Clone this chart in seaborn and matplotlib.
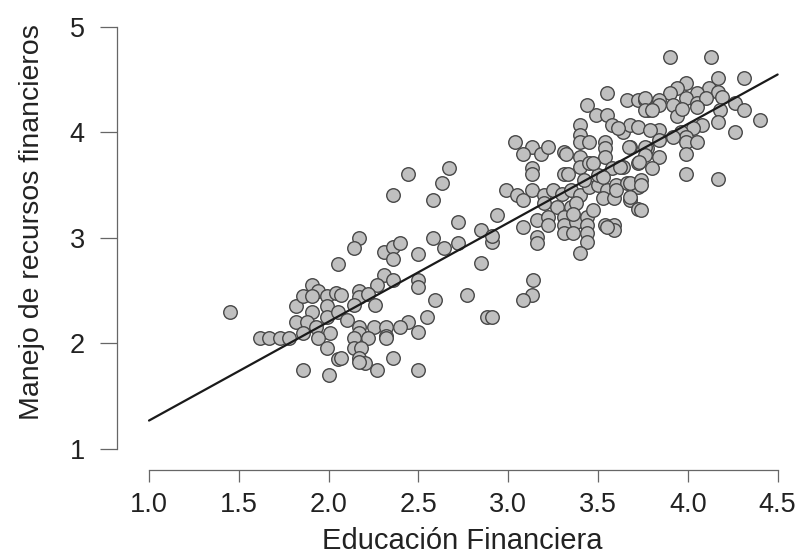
import numpy as np
import pandas as pd
import seaborn as sns
import matplotlib.pyplot as plt

# puntos (Educacion Financiera, Manejo de recursos financieros)
edu_bajo = [1.45, 1.62, 1.67, 1.73, 1.78, 1.86, 2.00, 1.91, 1.94, 1.82, 1.86, 1.91, 1.99, 2.04,
            1.91, 1.99, 1.82, 1.88, 1.99, 1.86, 1.93, 2.01, 1.94, 1.99, 2.05, 2.05,
            2.17, 2.14, 2.31, 2.36, 2.40, 2.36, 2.50, 2.58, 2.64, 2.72,
            2.31, 2.36, 2.50, 2.50, 2.27, 2.17, 2.17, 2.22, 2.07,
            2.26, 2.14, 2.59, 2.77, 2.88, 2.55, 2.44, 2.50, 2.40,
            2.17, 2.25, 2.32, 2.17, 2.32, 2.14, 2.22, 2.32, 2.14, 2.18,
            2.07, 2.17, 2.20, 2.36, 2.27, 2.50, 2.17,
            2.44, 2.67, 2.63, 2.36, 2.58, 2.72, 2.85, 2.85, 2.91, 2.05, 2.10]
man_bajo = [2.30, 2.05, 2.05, 2.05, 2.05, 1.75, 1.70, 2.55, 2.50, 2.35, 2.45, 2.45, 2.45, 2.48,
            2.30, 2.35, 2.20, 2.20, 2.25, 2.10, 2.15, 2.10, 2.05, 1.95, 1.85, 2.75,
            3.00, 2.90, 2.87, 2.91, 2.95, 2.80, 2.85, 3.00, 2.90, 2.95,
            2.65, 2.60, 2.60, 2.53, 2.55, 2.50, 2.44, 2.47, 2.46,
            2.36, 2.36, 2.41, 2.46, 2.25, 2.25, 2.20, 2.11, 2.15,
            2.15, 2.15, 2.15, 2.10, 2.07, 2.05, 2.05, 2.05, 1.95, 1.95,
            1.86, 1.86, 1.81, 1.86, 1.75, 1.75, 1.82,
            3.61, 3.66, 3.52, 3.41, 3.36, 3.15, 3.07, 2.76, 2.25, 2.30, 2.22]

edu_medio = [2.94, 2.91, 2.91, 2.99, 3.05, 3.08, 3.13, 3.20, 3.25, 3.30, 3.35, 3.40, 3.45, 3.50,
             3.55, 3.60, 3.66, 3.72, 3.53, 3.59, 3.68, 3.72, 3.27, 3.35, 3.20,
             3.08, 3.16, 3.22, 3.22, 3.31, 3.31, 3.38, 3.44, 3.44, 3.44, 3.54, 3.59, 3.59,
             3.31, 3.36, 3.16, 3.16, 3.44, 3.40, 3.14, 3.13, 3.08,
             3.04, 3.13, 3.08, 3.18, 3.22, 3.31, 3.40, 3.40, 3.40, 3.45, 3.54, 3.54, 3.54,
             3.49, 3.55, 3.58, 3.64, 3.68, 3.40, 3.40, 3.45, 3.13, 3.13, 3.31, 3.42, 3.50,
             3.58, 3.64, 3.68, 3.72, 3.44, 3.55, 3.66, 3.72, 3.76, 3.78, 3.61, 3.72, 3.67,
             3.77, 3.32, 3.47, 3.62, 3.33, 3.53, 3.68, 3.60, 3.68, 3.38, 3.47, 3.36, 3.55]
man_medio = [3.22, 2.96, 3.02, 3.45, 3.41, 3.36, 3.45, 3.41, 3.45, 3.42, 3.45, 3.41, 3.48, 3.50,
             3.45, 3.50, 3.52, 3.48, 3.38, 3.38, 3.36, 3.27, 3.29, 3.29, 3.33,
             3.10, 3.17, 3.20, 3.12, 3.20, 3.12, 3.15, 3.20, 3.12, 3.05, 3.12, 3.12, 3.07,
             3.05, 3.05, 3.01, 2.95, 2.96, 2.86, 2.60, 2.46, 2.41,
             3.91, 3.86, 3.80, 3.80, 3.86, 3.81, 4.07, 3.98, 3.91, 3.91, 3.91, 3.85, 3.77,
             4.17, 4.17, 4.07, 4.00, 4.07, 3.77, 3.67, 3.71, 3.66, 3.61, 3.61, 3.55, 3.60,
             3.66, 3.67, 3.86, 3.71, 4.26, 4.37, 4.31, 4.31, 4.31, 4.21, 4.04, 4.05, 3.86,
             3.85, 3.80, 3.71, 3.67, 3.61, 3.58, 3.52, 3.45, 3.39, 3.33, 3.26, 3.23, 3.10]

edu_alto = [3.90, 4.13, 4.17, 4.31, 3.99, 3.94, 4.12, 4.17, 3.90, 4.05, 3.76, 3.84, 3.99, 4.05,
            4.10, 4.19, 3.84, 3.92, 4.05, 3.76, 3.80, 4.26, 4.31, 4.18, 4.40, 3.94, 3.97,
            4.17, 4.08, 4.03, 3.84, 3.79, 4.26, 3.96, 3.99, 3.92, 3.84, 3.99, 4.05, 3.76,
            3.99, 3.84, 3.76, 3.73, 3.80, 3.99, 4.17, 3.74, 3.74, 3.74]
man_alto = [4.72, 4.72, 4.52, 4.52, 4.47, 4.42, 4.42, 4.38, 4.37, 4.37, 4.33, 4.31, 4.33, 4.28,
            4.33, 4.34, 4.26, 4.26, 4.24, 4.21, 4.21, 4.28, 4.21, 4.21, 4.12, 4.16, 4.22,
            4.10, 4.07, 4.04, 4.02, 4.02, 4.00, 4.00, 3.96, 3.96, 3.93, 3.91, 3.91, 3.86,
            3.80, 3.77, 3.79, 3.72, 3.66, 3.61, 3.56, 3.55, 3.50, 3.26]

df = pd.DataFrame({
    'educacion': edu_bajo + edu_medio + edu_alto,
    'manejo': man_bajo + man_medio + man_alto,
})

sns.set_style('ticks')
plt.rcParams['font.family'] = ['Liberation Sans', 'DejaVu Sans']

fig = plt.figure(figsize=(8.02, 5.59), dpi=100)
ax = fig.add_axes([0.1455, 0.1592, 0.851, 0.8113])

sns.scatterplot(data=df, x='educacion', y='manejo', ax=ax, s=95,
                color='#c0c0c0', edgecolor='#474747', linewidth=1.0, zorder=2)

# recta de regresion
pend, inter = np.polyfit(df['educacion'], df['manejo'], 1)
linea = pd.DataFrame({'educacion': [1.0, 4.5]})
linea['manejo'] = inter + pend * linea['educacion']
sns.lineplot(data=linea, x='educacion', y='manejo', ax=ax, color='#1a1a1a',
             linewidth=1.6, zorder=3)

ax.set_xlim(0.82, 4.62)
ax.set_ylim(0.797, 5.1)
ax.set_xticks([1.0, 1.5, 2.0, 2.5, 3.0, 3.5, 4.0, 4.5])
ax.set_xticklabels(['1.0', '1.5', '2.0', '2.5', '3.0', '3.5', '4.0', '4.5'])
ax.set_yticks([1, 2, 3, 4, 5])

for s in ['top', 'right']:
    ax.spines[s].set_visible(False)
ax.spines['left'].set_bounds(1, 5)
ax.spines['bottom'].set_bounds(1.0, 4.5)
for s in ['left', 'bottom']:
    ax.spines[s].set_color('#666666')
    ax.spines[s].set_linewidth(0.9)

ax.tick_params(axis='both', direction='out', width=0.9, color='#666666',
               labelsize=19.5, labelcolor='#222222', bottom=True, left=True)
ax.tick_params(axis='x', length=8.5, pad=7)
ax.tick_params(axis='y', length=12, pad=11)

ax.set_xlabel('Educación Financiera', fontsize=21, color='#222222')
ax.set_ylabel('Manejo de recursos financieros', fontsize=20.5, color='#222222')
ax.xaxis.set_label_coords(0.507, -0.125)
ax.yaxis.set_label_coords(-0.105, 0.547)

fig.savefig('out.png', dpi=100)
